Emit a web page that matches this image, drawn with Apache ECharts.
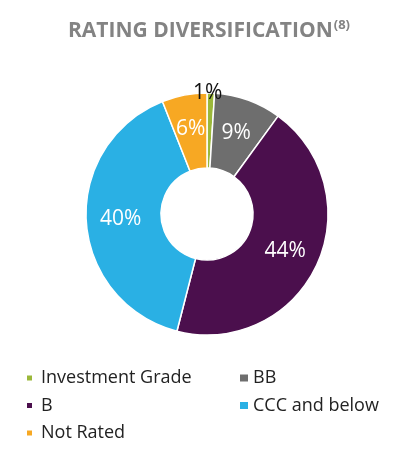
<!DOCTYPE html>
<html><head><meta charset="utf-8">
<script src="https://cdn.jsdelivr.net/npm/echarts@6/dist/echarts.min.js"></script>
<style>html,body{margin:0;padding:0;background:#fff}#c{width:398px;height:460px}</style>
</head><body><div id="c"></div>
<script>
const categories = ['Investment Grade', 'BB', 'B', 'CCC and below', 'Not Rated'];
const values = [1, 9, 44, 40, 6];
const colors = ['#9bb83a', '#6e6e6e', '#4b0f4d', '#2ab0e4', '#f7a823'];
const legendCol1 = ['Investment Grade', 'B', 'Not Rated'];
const legendCol2 = ['BB', 'CCC and below'];

const chart = echarts.init(document.getElementById('c'));
const FONT = '"Open Sans", "Noto Sans", sans-serif';
const data = categories.map((n, i) => {
  const d = { name: n, value: values[i], itemStyle: { color: colors[i] } };
  if (i === 0) {
    d.label = { color: '#111', offset: [-2, -35] };
  }
  return d;
});
const legendText = (pad) => ({ fontFamily: FONT, fontSize: 18, lineHeight: 18, color: '#222', padding: [0, 0, 0, pad] });
chart.setOption({
  animation: false,
  title: {
    text: '{a|RATING DIVERSIFICATION}{b|(8)}',
    left: 63, top: 14,
    textStyle: {
      rich: {
        a: { fontFamily: FONT, fontSize: 21, fontWeight: 'bold', color: '#838383' },
        b: { fontFamily: FONT, fontSize: 13, fontWeight: 'bold', color: '#838383', verticalAlign: 'top', padding: [0, 0, 11, 1] }
      }
    }
  },
  legend: [
    { data: legendCol1, left: 25, top: 369, padding: 0, orient: 'vertical', icon: 'rect',
      itemWidth: 7, itemHeight: 7, itemGap: 9.5, textStyle: legendText(3) },
    { data: legendCol2, left: 238, top: 369, padding: 0, orient: 'vertical', icon: 'rect',
      itemWidth: 10, itemHeight: 9, itemGap: 9.5, textStyle: legendText(-1) }
  ],
  series: [{
    type: 'pie',
    center: [207, 214],
    radius: [46, 121],
    startAngle: 90,
    clockwise: true,
    avoidLabelOverlap: false,
    itemStyle: { borderColor: '#fff', borderWidth: 1.5 },
    label: {
      show: true, position: 'inside', formatter: '{c}%',
      fontFamily: FONT, fontSize: 21, color: '#fff'
    },
    labelLine: { show: false },
    emphasis: { disabled: true },
    data: data
  }]
});
</script></body></html>
